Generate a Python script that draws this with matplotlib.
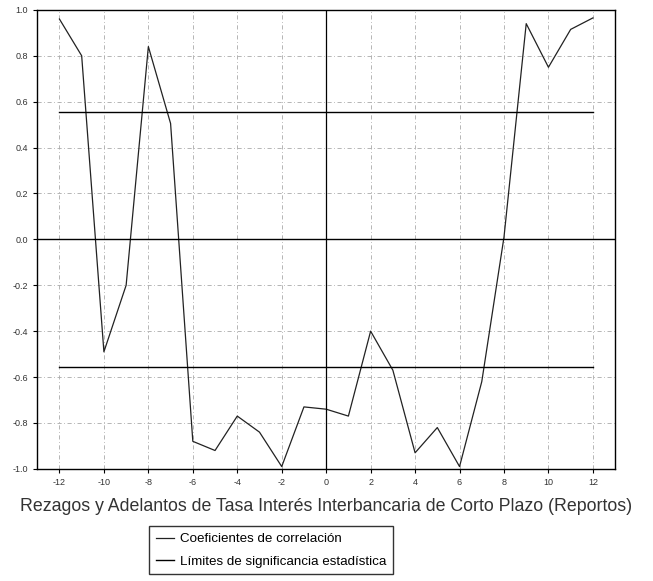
import numpy as np
import matplotlib
matplotlib.use('Agg')
from matplotlib import pyplot as plt

plt.rcParams['font.family'] = ['Liberation Sans', 'DejaVu Sans']
plt.rcParams['axes.unicode_minus'] = False

# rezagos / adelantos
lags = np.arange(-12, 13)
corr = [0.96, 0.80, -0.49, -0.20, 0.84, 0.505, -0.88, -0.92, -0.77, -0.84, -0.99, -0.73,
        -0.74, -0.77, -0.40, -0.57, -0.93, -0.82, -0.99, -0.62, 0.01, 0.94, 0.75, 0.915, 0.965]
limit = 0.555
yticks = [1.0, 0.8, 0.6, 0.4, 0.2, 0.0, -0.2, -0.4, -0.6, -0.8, -1.0]
xticks = list(range(-12, 13, 2))

fig = plt.figure(figsize=(6.53, 5.81), dpi=100)
ax = fig.add_axes([0.057, 0.193, 0.885, 0.790])

ax.plot(lags, corr, color='#222222', lw=0.9, label='Coeficientes de correlación')
ax.plot([lags[0], lags[-1]], [limit, limit], color='black', lw=1.0,
        label='Límites de significancia estadística')
ax.plot([lags[0], lags[-1]], [-limit, -limit], color='black', lw=1.0)
ax.axhline(0, color='black', lw=1.0)
ax.axvline(0, color='black', lw=0.9)

ax.set_xlim(-13, 13)
ax.set_ylim(-1.0, 1.0)
ax.set_xticks(xticks)
ax.set_yticks(yticks)
ax.set_yticklabels(['%.1f' % v for v in yticks])
ax.tick_params(labelsize=6.5, length=3, color='black', labelcolor='#333333', direction='out')
ax.grid(True, color='#aaaaaa', linestyle=(0, (5, 3, 1, 3)), linewidth=0.6)
for s in ax.spines.values():
    s.set_color('black')
    s.set_linewidth(1.0)

ax.set_xlabel('Rezagos y Adelantos de Tasa Interés Interbancaria de Corto Plazo (Reportos)',
              fontsize=12.8, color='#333333', labelpad=8)

fig.legend(loc='center', bbox_to_anchor=(0.415, 0.053), fontsize=9.6, frameon=True,
           fancybox=False, edgecolor='black', handlelength=1.4, handletextpad=0.4,
           borderpad=0.5, labelspacing=0.75)

fig.savefig('out.png', dpi=100, facecolor='white')
